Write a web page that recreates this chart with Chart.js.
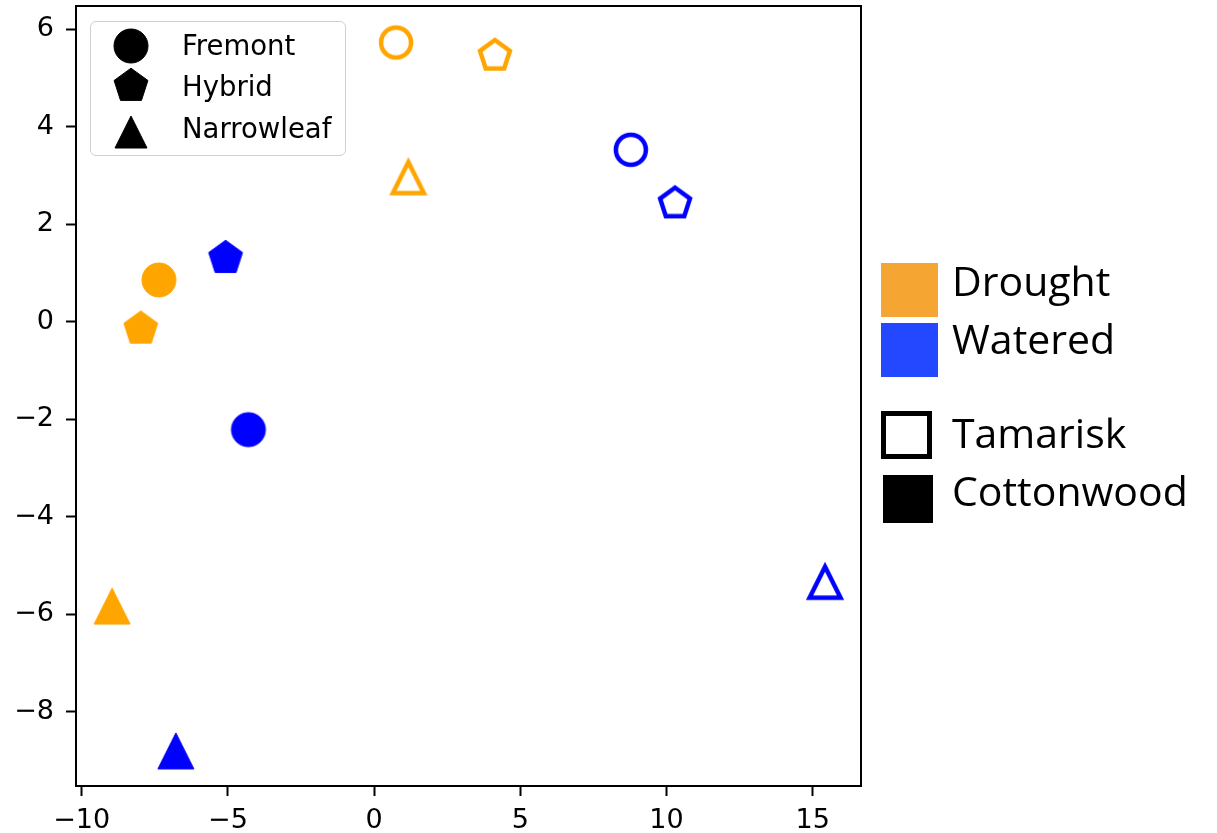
<!DOCTYPE html>
<html>
<head>
<meta charset="utf-8">
<title>Tamarisk / Cottonwood scatter</title>
<script src="https://cdn.jsdelivr.net/npm/chart.js@4/dist/chart.umd.min.js"></script>
<style>
  html, body { margin: 0; padding: 0; background: #fff; }
  #wrap { position: relative; width: 1217px; height: 833px; overflow: hidden; }
  #chart { position: absolute; left: 0; top: 0; }
  .inset {
    position: absolute; left: 90px; top: 21px; width: 254px; height: 133px;
    border: 1px solid #d0d0d0; border-radius: 6px; background: rgba(255,255,255,.8);
  }
  .inset-item { position: absolute; left: 0; font: 27.5px "DejaVu Sans", sans-serif; line-height: 1; color: #000; white-space: nowrap; }
  .side { position: absolute; font: 41px "Open Sans", sans-serif; line-height: 1; color: #000; white-space: nowrap; }
  .swatch { position: absolute; box-sizing: border-box; }
</style>
</head>
<body>
<div id="wrap">
  <canvas id="chart" width="1217" height="833"></canvas>
  <div class="inset" id="inset"></div>
  <div id="side"></div>
</div>
<script>
/* scatter of leaf types, condition by colour, species by fill */
var LEAF_TYPES = ['Fremont', 'Hybrid', 'Narrowleaf'];
var LEAF_SHAPES = ['circle', 'pentagon', 'triangle'];
var CONDITIONS = ['Drought', 'Watered'];
var SPECIES = ['Tamarisk', 'Cottonwood'];

// values, one entry per leaf type
var droughtTamariskX = [0.75, 4.13, 1.17];
var droughtTamariskY = [5.73, 5.46, 2.96];
var wateredTamariskX = [8.78, 10.29, 15.42];
var wateredTamariskY = [3.53, 2.43, -5.34];
var droughtCottonwoodX = [-7.36, -7.98, -8.96];
var droughtCottonwoodY = [0.86, -0.14, -5.83];
var wateredCottonwoodX = [-4.30, -5.08, -6.78];
var wateredCottonwoodY = [-2.21, 1.31, -8.80];

var X_TICKS = [-10, -5, 0, 5, 10, 15];
var Y_TICKS = [-8, -6, -4, -2, 0, 2, 4, 6];
var X_MIN = -10.195, X_MAX = 16.65;
var Y_MIN = -9.52, Y_MAX = 6.48;

var COND_COLORS = { Drought: '#ffa500', Watered: '#0000ff' };
var SIDE_COLORS = { Drought: '#f4a532', Watered: '#2448ff' };

// matplotlib-like marker drawn on a small canvas, used as pointStyle
function makeMarker(shape, color, filled, r) {
  var lw = filled ? 1 : 4.5;
  var dim = Math.ceil(2 * r + lw * 3 + 4);
  if (dim % 2) dim++;
  var c = document.createElement('canvas');
  c.width = c.height = dim;
  var g = c.getContext('2d');
  var h = dim / 2;
  g.beginPath();
  if (shape === 'circle') {
    g.arc(h, h, r, 0, Math.PI * 2);
  } else if (shape === 'pentagon') {
    for (var i = 0; i < 5; i++) {
      var a = -Math.PI / 2 + i * Math.PI * 2 / 5;
      var px = h + r * Math.cos(a), py = h + r * Math.sin(a);
      if (i === 0) g.moveTo(px, py); else g.lineTo(px, py);
    }
  } else {
    g.moveTo(h, h - r);
    g.lineTo(h - r, h + r);
    g.lineTo(h + r, h + r);
  }
  g.closePath();
  g.lineWidth = lw;
  g.lineJoin = 'miter';
  g.strokeStyle = color;
  if (filled) { g.fillStyle = color; g.fill(); }
  g.stroke();
  return c;
}

var SIZES_OPEN = { circle: 15, pentagon: 15.7, triangle: 15.5 };
var SIZES_FILLED = { circle: 17, pentagon: 17.8, triangle: 18 };

function styles(color, filled) {
  return LEAF_SHAPES.map(function (s) {
    return makeMarker(s, color, filled, (filled ? SIZES_FILLED : SIZES_OPEN)[s]);
  });
}

function pts(xs, ys) {
  return xs.map(function (x, i) { return { x: x, y: ys[i] }; });
}

function ds(label, xs, ys, color, filled) {
  return {
    label: label,
    data: pts(xs, ys),
    pointStyle: styles(color, filled),
    pointRadius: 17,
    pointHoverRadius: 17,
    showLine: false
  };
}

var frame = {
  id: 'frame',
  afterDatasetsDraw: function (chart) {
    var a = chart.chartArea, g = chart.ctx;
    g.save();
    g.strokeStyle = '#000';
    g.lineWidth = 2;
    g.strokeRect(a.left, a.top, a.right - a.left, a.bottom - a.top);
    g.restore();
  }
};

function minus(v) { return v < 0 ? '\u2212' + Math.abs(v) : String(v); }
function fixedTicks(list) {
  return function (s) { s.ticks = list.map(function (v) { return { value: v }; }); };
}

var TICK_FONT = { family: 'DejaVu Sans', size: 27 };
var axisGrid = { display: true, drawOnChartArea: false, drawTicks: true, tickLength: 10, tickWidth: 2, tickColor: '#000' };

new Chart(document.getElementById('chart').getContext('2d'), {
  type: 'scatter',
  data: {
    datasets: [
      ds('Drought Tamarisk', droughtTamariskX, droughtTamariskY, COND_COLORS.Drought, false),
      ds('Watered Tamarisk', wateredTamariskX, wateredTamariskY, COND_COLORS.Watered, false),
      ds('Drought Cottonwood', droughtCottonwoodX, droughtCottonwoodY, COND_COLORS.Drought, true),
      ds('Watered Cottonwood', wateredCottonwoodX, wateredCottonwoodY, COND_COLORS.Watered, true)
    ]
  },
  options: {
    responsive: false,
    animation: false,
    layout: { autoPadding: false, padding: { top: 6, right: 356, left: 0, bottom: 0 } },
    plugins: { legend: { display: false }, tooltip: { enabled: false } },
    scales: {
      x: {
        type: 'linear', min: X_MIN, max: X_MAX,
        afterBuildTicks: fixedTicks(X_TICKS),
        afterFit: function (s) { s.height = 47; s.paddingLeft = 0; s.paddingRight = 0; },
        border: { display: false },
        grid: axisGrid,
        ticks: { padding: 9, color: '#000', font: TICK_FONT, callback: minus, maxRotation: 0, autoSkip: false }
      },
      y: {
        type: 'linear', min: Y_MIN, max: Y_MAX,
        afterBuildTicks: fixedTicks(Y_TICKS),
        afterFit: function (s) { s.width = 76; s.paddingTop = 0; s.paddingBottom = 0; },
        border: { display: false },
        grid: axisGrid,
        ticks: { padding: 12, color: '#000', font: TICK_FONT, callback: minus, autoSkip: false }
      }
    }
  },
  plugins: [frame]
});

// inset legend: leaf types with black markers
(function () {
  var box = document.getElementById('inset');
  var tops = [10, 51, 93];
  var markerY = [24, 64, 110];
  LEAF_TYPES.forEach(function (name, i) {
    var item = document.createElement('div');
    item.className = 'inset-item';
    item.style.top = tops[i] + 'px';
    item.style.left = '91px';
    item.textContent = name;
    box.appendChild(item);
    var m = makeMarker(LEAF_SHAPES[i], '#000', true, SIZES_FILLED[LEAF_SHAPES[i]] - (i === 2 ? 2 : 0));
    m.style.position = 'absolute';
    m.style.left = (40 - m.width / 2) + 'px';
    m.style.top = (markerY[i] - m.height / 2) + 'px';
    box.appendChild(m);
  });
})();

// outside legend: condition colours and species fill
(function () {
  var side = document.getElementById('side');
  function add(cls, css, text) {
    var d = document.createElement('div');
    d.className = cls;
    d.style.cssText = css;
    if (text) d.textContent = text;
    side.appendChild(d);
  }
  var swTop = [263, 323];
  var txtTop = [260, 318];
  CONDITIONS.forEach(function (c, i) {
    add('swatch', 'left:881px;top:' + swTop[i] + 'px;width:57px;height:54px;background:' + SIDE_COLORS[c] + ';');
    add('side', 'left:952px;top:' + txtTop[i] + 'px;', c);
  });
  add('swatch', 'left:881px;top:411px;width:51px;height:48px;border:5px solid #000;background:#fff;');
  add('swatch', 'left:883px;top:475px;width:50px;height:48px;background:#000;');
  add('side', 'left:952px;top:412px;', SPECIES[0]);
  add('side', 'left:952px;top:470px;', SPECIES[1]);
})();
</script>
</body>
</html>
